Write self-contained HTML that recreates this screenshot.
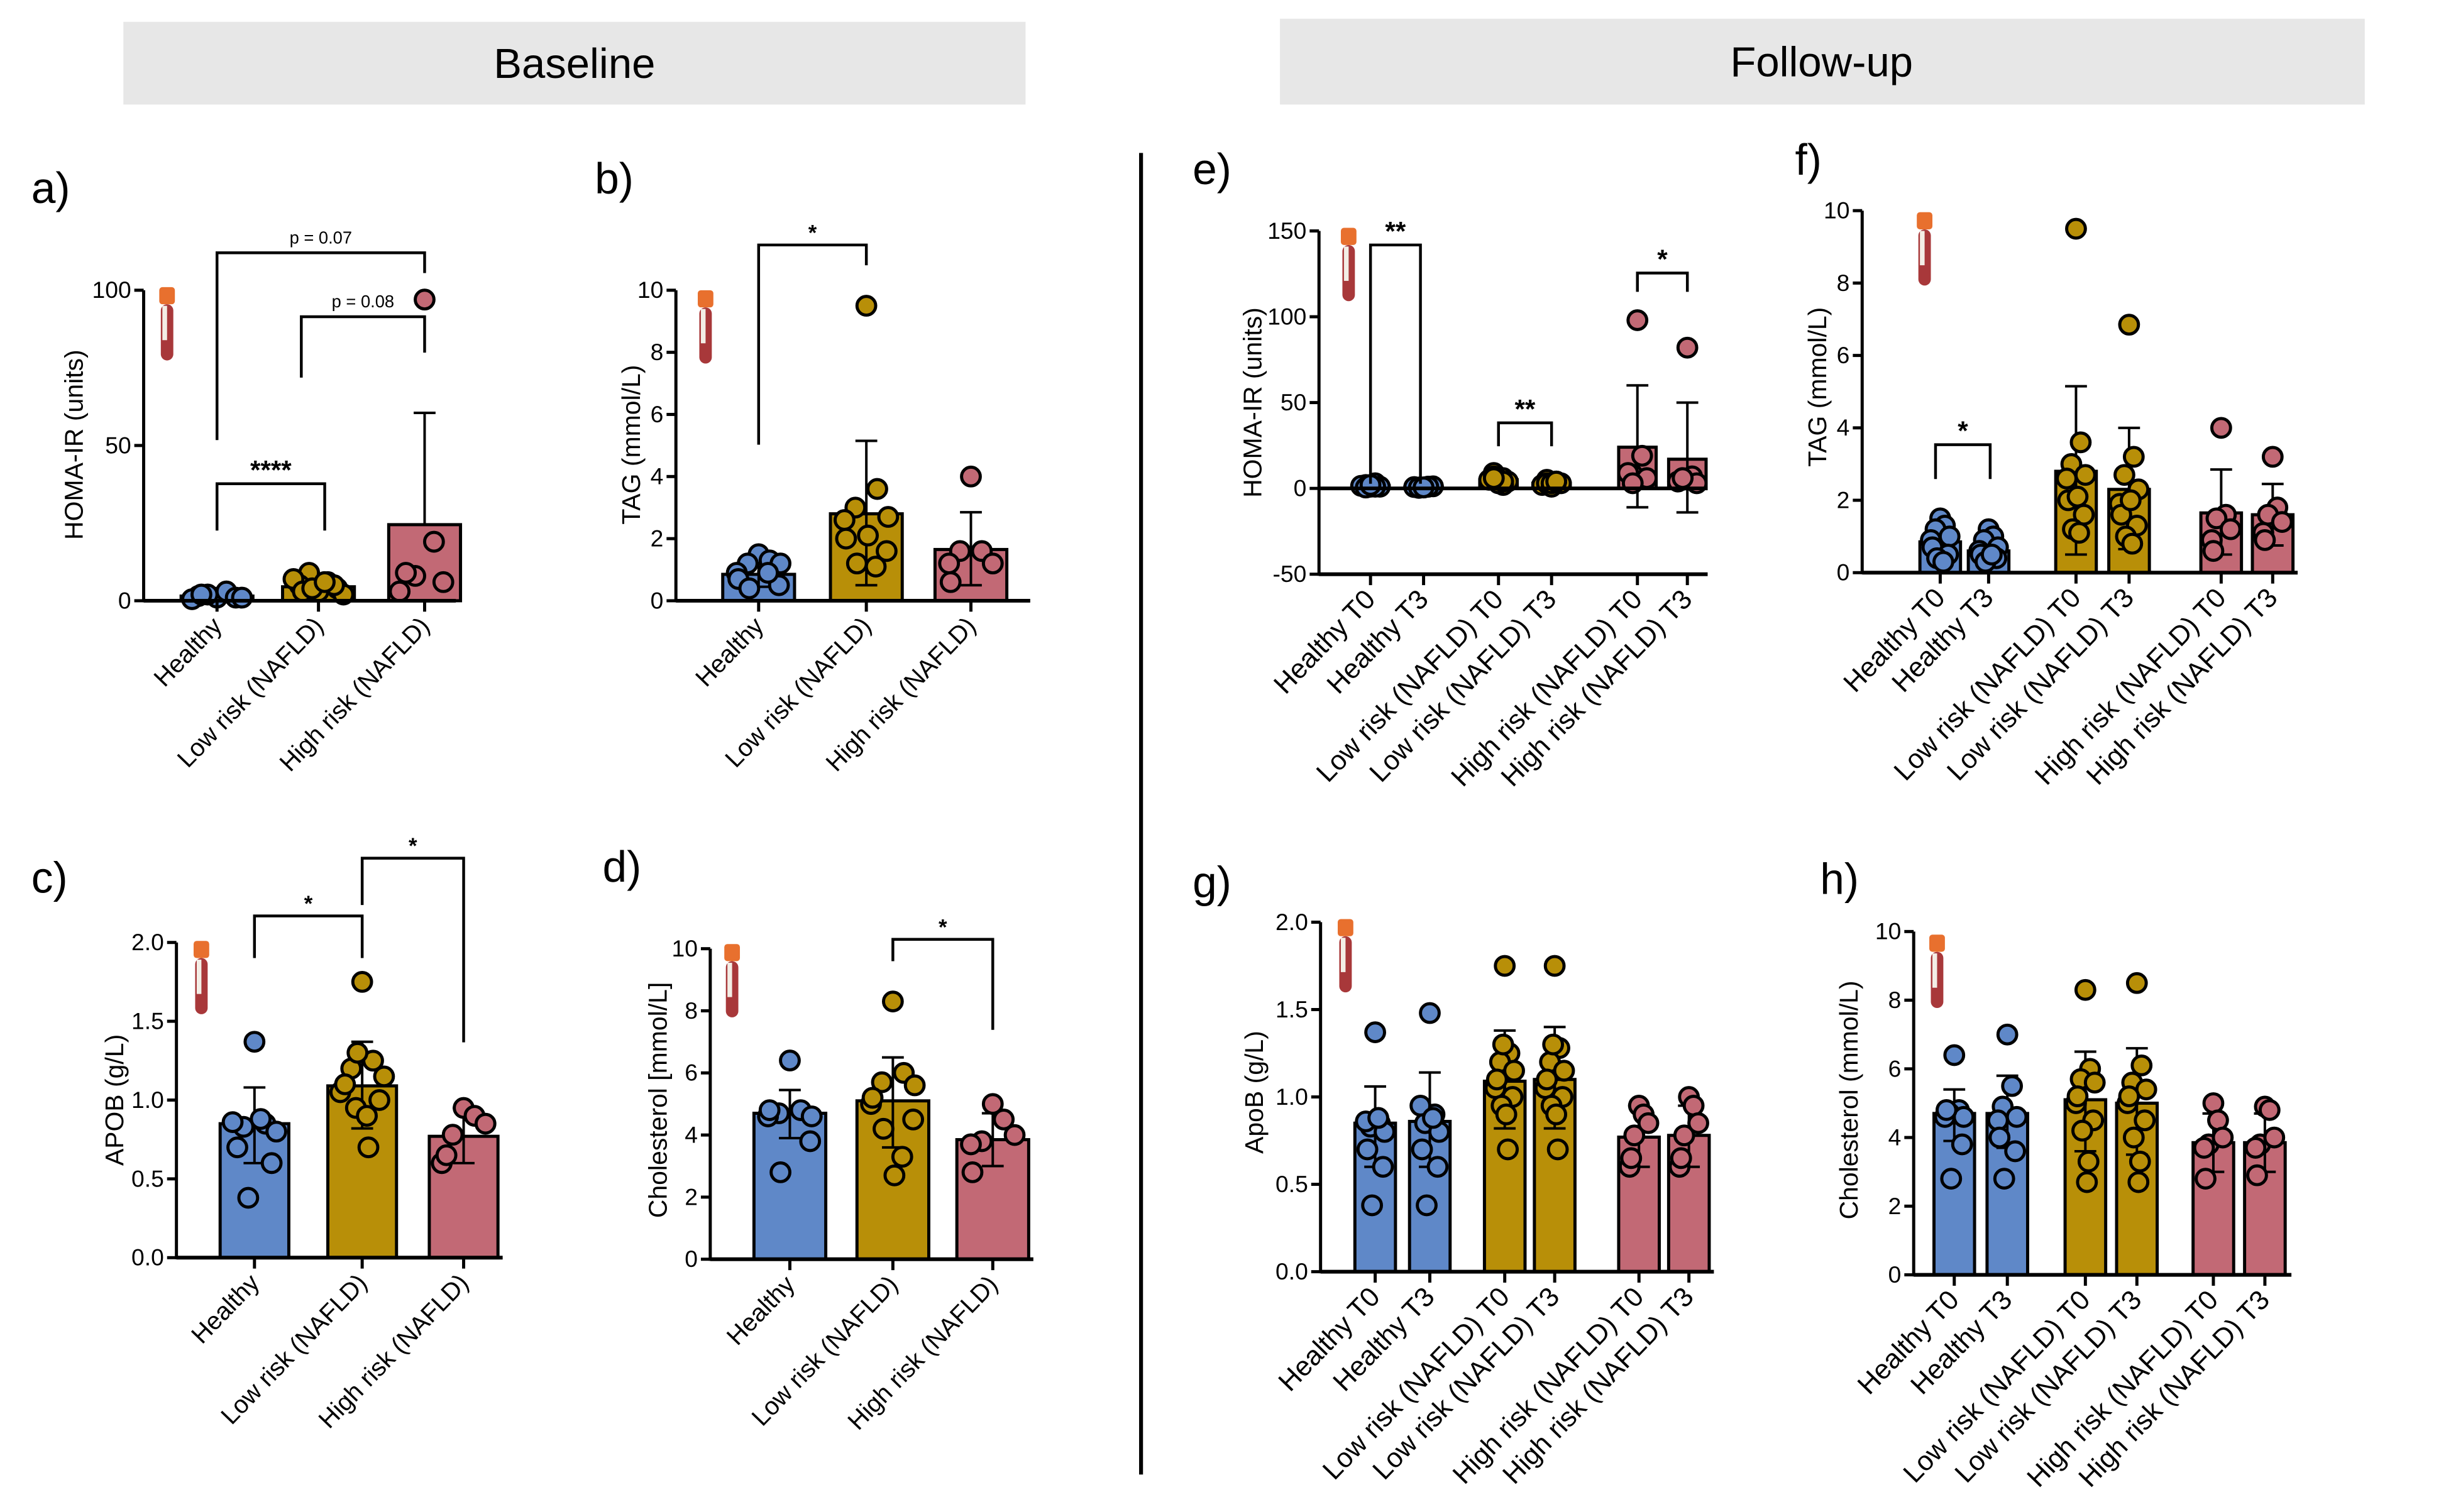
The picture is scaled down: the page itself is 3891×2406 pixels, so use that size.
<!DOCTYPE html>
<html><head><meta charset="utf-8"><style>
html,body{margin:0;padding:0;background:#fff;}
svg{display:block;font-family:"Liberation Sans",sans-serif;}
</style></head><body>
<svg id="fig" width="3891" height="2406" viewBox="0 0 1567 969" xmlns="http://www.w3.org/2000/svg">
<rect x="79" y="14" width="578" height="53" fill="#e7e7e7"/>
<text x="368" y="50" font-size="27" text-anchor="middle">Baseline</text>
<rect x="820" y="12" width="695" height="55" fill="#e7e7e7"/>
<text x="1167" y="49" font-size="27" text-anchor="middle">Follow-up</text>
<line x1="731" y1="98" x2="731" y2="945" stroke="#000" stroke-width="2.5"/>
<g id="panels"></g>
</svg>
<script>
// ---- data arrays ----
const baseCats = ["Healthy","Low risk (NAFLD)","High risk (NAFLD)"];
const fuCats = ["Healthy T0","Healthy T3","Low risk (NAFLD) T0","Low risk (NAFLD) T3","High risk (NAFLD) T0","High risk (NAFLD) T3"];
const aMeans = [1.5, 4.5, 24.5];
const aErrHi = [2.5, 6.5, 60.5];
const aPoints = [[1,3,2,1,1.5,0.5,1,2],[3,6,9,4,5,7,2,3,5,4,6],[97,19,8,6,9,3]];
const aTicks = [0,50,100];
const bMeans = [0.85, 2.8, 1.65];
const bErrLo = [0.45, 0.5, 0.5];
const bErrHi = [1.25, 5.15, 2.85];
const bPoints = [[1.5,1.3,1.2,1.2,0.9,0.7,0.5,0.4,0.9],[9.5,3.6,3.0,2.7,2.6,2.0,1.6,1.2,1.1,2.1],[4.0,1.6,1.6,1.2,1.2,0.6]];
const bTicks = [0,2,4,6,8,10];
const cMeans = [0.85, 1.09, 0.77];
const cErrLo = [0.6, 0.82, 0.6];
const cErrHi = [1.08, 1.37, 0.95];
const cPoints = [[1.37,0.85,0.83,0.8,0.86,0.7,0.6,0.38,0.88],[1.75,1.25,1.2,1.15,1.05,1.1,1.0,0.95,0.7,0.9,1.3],[0.95,0.9,0.78,0.85,0.6,0.65]];
const cTicks = [0,0.5,1.0,1.5,2.0];
const dMeans = [4.7, 5.1, 3.85];
const dErrLo = [3.9, 3.6, 3.0];
const dErrHi = [5.45, 6.5, 4.7];
const dPoints = [[6.4,4.8,4.7,4.6,4.6,4.8,3.8,2.8],[8.3,6.0,5.7,5.6,5.0,5.2,4.5,4.2,3.3,2.7],[5.0,4.5,3.8,4.0,3.7,2.8]];
const dTicks = [0,2,4,6,8,10];
const eMeans = [1.5, 0.8, 5, 3, 24, 17];
const eErrLo = [0.5, 0.2, 3, 1.5, -11, -14];
const eErrHi = [2.5, 1.5, 7, 4.5, 60, 50];
const ePoints = [[1,3,2,1,1.5,0.5,1,2],[0.5,1,0.3,1.2,0.8,0.5,1,0.6],[3,6,9,4,5,7,2,3,5,4,6],[2,4,5,3,2,3,4,1,3,4],[98,19,8,6,9,3],[82,7,5,3,4,6]];
const eTicks = [-50,0,50,100,150];
const fMeans = [0.85, 0.6, 2.8, 2.3, 1.65, 1.6];
const fErrLo = [0.45, 0.3, 0.5, 0.65, 0.5, 0.75];
const fErrHi = [1.25, 0.9, 5.15, 4.0, 2.85, 2.45];
const fPoints = [[1.5,1.3,1.2,1.0,0.9,0.7,0.5,0.4,0.3],[1.2,1.0,0.9,0.7,0.6,0.5,0.4,0.3,0.5],[9.5,3.6,3.0,2.7,2.6,2.0,1.6,1.2,1.1,2.1],[6.85,3.2,2.7,2.3,1.9,1.6,1.3,1.0,0.8,2.0],[4.0,1.6,1.5,1.2,0.9,0.6],[3.2,1.8,1.6,1.4,1.1,0.9]];
const fTicks = [0,2,4,6,8,10];
const gMeans = [0.85, 0.86, 1.09, 1.1, 0.77, 0.78];
const gErrLo = [0.6, 0.6, 0.82, 0.82, 0.6, 0.6];
const gErrHi = [1.06, 1.14, 1.38, 1.4, 0.95, 0.95];
const gPoints = [[1.37,0.85,0.83,0.8,0.86,0.7,0.6,0.38,0.88],[1.48,0.9,0.85,0.8,0.95,0.7,0.6,0.38,0.88],[1.75,1.25,1.2,1.15,1.05,1.1,1.0,0.95,0.7,0.9,1.3],[1.75,1.28,1.2,1.15,1.05,1.1,1.0,0.95,0.7,0.9,1.3],[0.95,0.9,0.78,0.85,0.6,0.65],[1.0,0.95,0.78,0.85,0.6,0.65]];
const gTicks = [0,0.5,1.0,1.5,2.0];
const hMeans = [4.7, 4.7, 5.1, 5.0, 3.85, 3.85];
const hErrLo = [3.9, 3.7, 3.6, 3.5, 3.0, 3.0];
const hErrHi = [5.4, 5.8, 6.5, 6.6, 4.7, 4.7];
const hPoints = [[6.4,4.8,4.7,4.6,4.6,4.8,3.8,2.8],[7.0,5.5,4.9,4.6,4.5,4.0,3.6,2.8],[8.3,6.0,5.7,5.6,5.0,5.2,4.5,4.2,3.3,2.7],[8.5,6.1,5.6,5.4,5.0,5.2,4.5,4.0,3.3,2.7],[5.0,4.5,3.8,4.0,3.7,2.8],[4.9,4.8,3.8,4.0,3.7,2.9]];
const hTicks = [0,2,4,6,8,10];

const BLUE="#5f88c8", GOLD="#b88f08", PINK="#c26975";
const NS="http://www.w3.org/2000/svg";
const root=document.getElementById('panels');
function mk(tag,attrs,parent){const e=document.createElementNS(NS,tag);for(const k in attrs)e.setAttribute(k,attrs[k]);(parent||root).appendChild(e);return e;}

function panel(P){
  const g=mk('g',{});
  
  
  const y=v=>P.y0+(v-P.vmin)/(P.vmax-P.vmin)*(P.y1-P.y0);
  const L=mk('text',{x:P.lx,y:P.ly,'font-size':28},g);L.textContent=P.letter;
  
  
  const T=mk('text',{x:0,y:0,'font-size':16.5,'text-anchor':'middle',transform:`translate(${P.tx},${P.ty}) rotate(-90)`},g);T.textContent=P.ytitle;
  
  
  const tube=mk('g',{transform:`translate(${P.icx},${P.icy})`},g);
  
  
  mk('rect',{x:-5,y:0,width:10,height:11,rx:2,fill:'#e8702e'},tube);
  mk('rect',{x:-4,y:11,width:8,height:36,rx:4,fill:'#a8383a'},tube);
  mk('rect',{x:-3,y:12,width:3,height:22,fill:'#f3eee6'},tube);
  P.cats.forEach((c,i)=>{
    const cx=P.gx[i], col=P.colors[i], m=P.means[i];
    const yb=y(Math.max(m,0)), yz=y(0);
    const bar=mk('rect',{x:cx-P.bw/2,y:Math.min(yb,yz),width:P.bw,height:Math.abs(yz-yb),fill:col,stroke:'#000','stroke-width':2},g);
    
    
    const lo=P.errLo?P.errLo[i]:m, hi=P.errHi[i];
    mk('line',{x1:cx,y1:y(lo),x2:cx,y2:y(hi),stroke:'#000','stroke-width':1.6},g);
    mk('line',{x1:cx-7,y1:y(hi),x2:cx+7,y2:y(hi),stroke:'#000','stroke-width':1.6},g);
    if(P.errLo) mk('line',{x1:cx-7,y1:y(lo),x2:cx+7,y2:y(lo),stroke:'#000','stroke-width':1.6},g);
    const pts=P.points[i];
    const lim=Math.max(2,P.bw/2-P.r);
    pts.forEach((v,j)=>{
      let off=(j===0)?0:(j%2?1:-1)*Math.ceil(j/2)*P.jit;
      while(Math.abs(off)>lim) off=off>0?off-2*lim:off+2*lim;
      const p=mk('circle',{cx:cx+off,cy:y(v),r:P.r,fill:col,stroke:'#000','stroke-width':2},g);
      
      
    });
    mk('line',{x1:cx,y1:P.xaY,x2:cx,y2:P.xaY+7,stroke:'#000','stroke-width':2},g);
    const lb=mk('text',{x:0,y:0,'font-size':P.lfs,'text-anchor':'end',transform:`translate(${cx+4},${P.xaY+17}) rotate(-46)`},g);
    lb.textContent=c;
    
    
  });
  mk('line',{x1:P.ax,y1:y(P.vmax),x2:P.ax,y2:P.xaY+1,stroke:'#000','stroke-width':2},g);
  mk('line',{x1:P.ax,y1:P.xaY,x2:P.xend,y2:P.xaY,stroke:'#000','stroke-width':2.4},g);
  if(P.zeroLine) mk('line',{x1:P.ax,y1:y(0),x2:P.xend,y2:y(0),stroke:'#000','stroke-width':2.4},g);
  P.ticks.forEach(t=>{
    mk('line',{x1:P.ax-6,y1:y(t),x2:P.ax,y2:y(t),stroke:'#000','stroke-width':2},g);
    const tl=mk('text',{x:P.ax-8,y:y(t)+5,'font-size':15,'text-anchor':'end'},g);
    tl.textContent=P.tfmt?t.toFixed(1):String(t);
    
    
  });
  (P.brackets||[]).forEach(b=>{
    mk('polyline',{points:`${b[0]},${b[3]} ${b[0]},${b[2]} ${b[1]},${b[2]} ${b[1]},${b[4]}`,fill:'none',stroke:'#000','stroke-width':1.8},g);
    const st=mk('text',{x:(b[0]+b[1])/2,y:b[2]-(b[5].startsWith('p')?6:3),'font-size':b[5].startsWith('p')?11:(b[6]||16),'font-weight':b[5].startsWith('p')?'normal':'bold','text-anchor':'middle'},g);
    st.textContent=b[5];
    
    
  });
}
const C3=[BLUE,GOLD,PINK], C6=[BLUE,BLUE,GOLD,GOLD,PINK,PINK];
panel({name:'panel-a-homa-baseline',letter:'a)',lx:20,ly:130,ytitle:'HOMA-IR (units)',tx:53,ty:285,icx:107,icy:184,cats:baseCats,gx:[139,204,272],colors:C3,means:aMeans,errHi:aErrHi,points:aPoints,ticks:aTicks,vmin:0,vmax:100,y0:385,y1:186,ax:92,xaY:385,xend:292,bw:46,r:6,jit:6,lfs:16,
 brackets:[[139,208,310,340,340,'****',17],[193,272,203,242,226,'p = 0.08'],[139,272,162,282,175,'p = 0.07']]});
panel({name:'panel-b-tag-baseline',letter:'b)',lx:381,ly:124,ytitle:'TAG  (mmol/L)',tx:410,ty:285,icx:452,icy:186,cats:baseCats,gx:[486,555,622],colors:C3,means:bMeans,errLo:bErrLo,errHi:bErrHi,points:bPoints,ticks:bTicks,vmin:0,vmax:10,y0:385,y1:186,ax:433,xaY:385,xend:660,bw:46,r:6,jit:7,lfs:16,
 brackets:[[486,555,157,285,170,'*',14]]});
panel({name:'panel-c-apob-baseline',letter:'c)',lx:20,ly:572,ytitle:'APOB (g/L)',tx:79,ty:705,icx:129,icy:603,cats:baseCats,gx:[163,232,297],colors:C3,means:cMeans,errLo:cErrLo,errHi:cErrHi,points:cPoints,ticks:cTicks,tfmt:1,vmin:0,vmax:2,y0:806,y1:604,ax:113,xaY:806,xend:322,bw:44,r:6,jit:7,lfs:16,
 brackets:[[163,232,587,614,614,'*',14],[232,297,550,580,668,'*',14]]});
panel({name:'panel-d-cholesterol-baseline',letter:'d)',lx:386,ly:565,ytitle:'Cholesterol [mmol/L]',tx:427,ty:705,icx:469,icy:605,cats:baseCats,gx:[506,572,636],colors:C3,means:dMeans,errLo:dErrLo,errHi:dErrHi,points:dPoints,ticks:dTicks,vmin:0,vmax:10,y0:807,y1:608,ax:455,xaY:807,xend:662,bw:46,r:6,jit:7,lfs:16,
 brackets:[[572,636,602,616,660,'*',14]]});
panel({name:'panel-e-homa-followup',letter:'e)',lx:764,ly:118,ytitle:'HOMA-IR (units)',tx:808,ty:258,icx:864,icy:146,cats:fuCats,gx:[878,912,960,994,1049,1081],colors:C6,means:eMeans,errLo:eErrLo,errHi:eErrHi,points:ePoints,ticks:eTicks,vmin:-50,vmax:150,y0:368,y1:148,ax:845,xaY:368,xend:1094,zeroLine:1,bw:24,r:6,jit:3,lfs:17.5,
 brackets:[[878,910,157,310,310,'**',17],[960,994,271,286,286,'**',17],[1049,1081,175,187,187,'*',17]]});
panel({name:'panel-f-tag-followup',letter:'f)',lx:1150,ly:112,ytitle:'TAG  (mmol/L)',tx:1170,ty:248,icx:1233,icy:136,cats:fuCats,gx:[1243,1274,1330,1364,1423,1456],colors:C6,means:fMeans,errLo:fErrLo,errHi:fErrHi,points:fPoints,ticks:fTicks,vmin:0,vmax:10,y0:367,y1:135,ax:1193,xaY:367,xend:1472,bw:26,r:6,jit:3,lfs:17.5,
 brackets:[[1240,1275,285,307,307,'*',17]]});
panel({name:'panel-g-apob-followup',letter:'g)',lx:764,ly:575,ytitle:'ApoB (g/L)',tx:809,ty:700,icx:862,icy:589,cats:fuCats,gx:[881,916,964,996,1050,1082],colors:C6,means:gMeans,errLo:gErrLo,errHi:gErrHi,points:gPoints,ticks:gTicks,tfmt:1,vmin:0,vmax:2,y0:815,y1:591,ax:846,xaY:815,xend:1098,bw:26,r:6,jit:3,lfs:17.5});
panel({name:'panel-h-cholesterol-followup',letter:'h)',lx:1166,ly:573,ytitle:'Cholesterol (mmol/L)',tx:1190,ty:705,icx:1241,icy:599,cats:fuCats,gx:[1252,1286,1336,1369,1418,1451],colors:C6,means:hMeans,errLo:hErrLo,errHi:hErrHi,points:hPoints,ticks:hTicks,vmin:0,vmax:10,y0:817,y1:597,ax:1226,xaY:817,xend:1468,bw:26,r:6,jit:3,lfs:17.5});
</script>
</body></html>
